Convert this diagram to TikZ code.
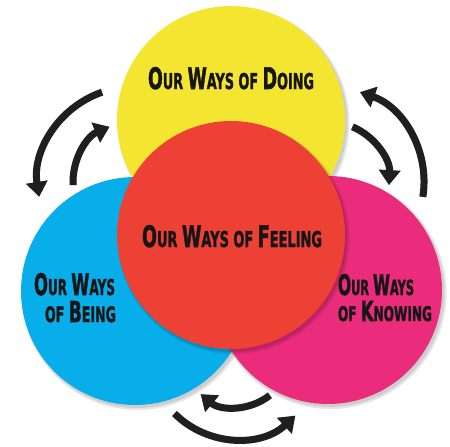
\documentclass[tikz,border=0pt]{standalone}
\usepackage{fontspec}
\setmainfont{DejaVu Sans}
\newfontfamily\heavyfont{DejaVu Sans}[BoldFeatures={FakeBold=2}]
\usetikzlibrary{arrows.meta,calc}
\definecolor{cyellow}{HTML}{F4E630}
\definecolor{cred}{HTML}{EE4136}
\definecolor{cblue}{HTML}{08AEEA}
\definecolor{cpink}{HTML}{EB2C7C}
\definecolor{ctext}{HTML}{161616}
\newcommand\Bg[1]{{\fontsize{30}{30}\heavyfont\bfseries #1}}
\newcommand\Sm[1]{{\fontsize{22}{22}\heavyfont\bfseries #1}}
\tikzset{
  disc/.style={circle, minimum size=228pt, inner sep=0pt, outer sep=0pt},
  shade1/.style={circle, minimum size=#1, inner sep=0pt, fill=black, fill opacity=0.10},
  txt/.style={inner sep=0pt, outer sep=0pt, text=ctext},
  arr/.style={line width=7pt, draw=black!88, -{Triangle[length=15pt,width=21pt]}},
  arrsh/.style={line width=7pt, draw=black, opacity=0.18, -{Triangle[length=15pt,width=21pt]}}
}
\begin{document}
\begin{tikzpicture}[x=1pt,y=-1pt]
\useasboundingbox (0,0) rectangle (450,447);
% shadows and circles
\foreach \cx/\cy/\cc/\nm in {231/120/cyellow/yellow,135/291/cblue/blue,328/290/cpink/pink,231/235/cred/red}{
  \node[shade1=232pt] at (\cx+2.5,\cy+3) {};
  \node[shade1=229pt] at (\cx+2,\cy+2.5) {};
  \node[disc, fill=\cc] (\nm) at (\cx,\cy) {};
}
% arrow centres
\coordinate (cL) at (133,182);
\coordinate (cR) at (329,182);
\coordinate (cB) at (236,352);
% arrow shadows
\begin{scope}[shift={(2,3)}]
\draw[arrsh] ($(cL)+(251:95)$) arc[start angle=251, end angle=171, radius=95];
\draw[arrsh] ($(cL)+(177:60)$) arc[start angle=177, end angle=247, radius=60];
\draw[arrsh] ($(cR)+(9:95)$) arc[start angle=9, end angle=-71, radius=95];
\draw[arrsh] ($(cR)+(-67:60)$) arc[start angle=-67, end angle=3, radius=60];
\draw[arrsh] ($(cB)+(135:87)$) arc[start angle=135, end angle=47, radius=87];
\draw[arrsh] ($(cB)+(52:55)$) arc[start angle=52, end angle=130, radius=55];
\end{scope}
% arrows
\draw[arr] ($(cL)+(251:95)$) arc[start angle=251, end angle=171, radius=95];
\draw[arr] ($(cL)+(177:60)$) arc[start angle=177, end angle=247, radius=60];
\draw[arr] ($(cR)+(9:95)$) arc[start angle=9, end angle=-71, radius=95];
\draw[arr] ($(cR)+(-67:60)$) arc[start angle=-67, end angle=3, radius=60];
\draw[arr] ($(cB)+(135:87)$) arc[start angle=135, end angle=47, radius=87];
\draw[arr] ($(cB)+(52:55)$) arc[start angle=52, end angle=130, radius=55];
% texts
\node[txt, anchor=base west] (tdoing) at (148,89) {\resizebox{166pt}{22pt}{\Bg{O}\Sm{UR }\Bg{W}\Sm{AYS OF }\Bg{D}\Sm{OING}}};
\node[txt, anchor=base west] (tfeeling) at (142,247) {\resizebox{180pt}{22pt}{\Bg{O}\Sm{UR }\Bg{W}\Sm{AYS OF }\Bg{F}\Sm{EELING}}};
\node[txt, anchor=base east] (tbeing1) at (115,295) {\resizebox{81pt}{22pt}{\Bg{O}\Sm{UR }\Bg{W}\Sm{AYS}}};
\node[txt, anchor=base east] (tbeing2) at (116,322) {\resizebox{71pt}{21pt}{\Sm{OF }\Bg{B}\Sm{EING}}};
\node[txt, anchor=base west] (tknow1) at (338,295) {\resizebox{76pt}{21pt}{\Bg{O}\Sm{UR }\Bg{W}\Sm{AYS}}};
\node[txt, anchor=base west] (tknow2) at (338,321) {\resizebox{94pt}{20pt}{\Sm{OF }\Bg{K}\Sm{NOWING}}};
\end{tikzpicture}
\end{document}
